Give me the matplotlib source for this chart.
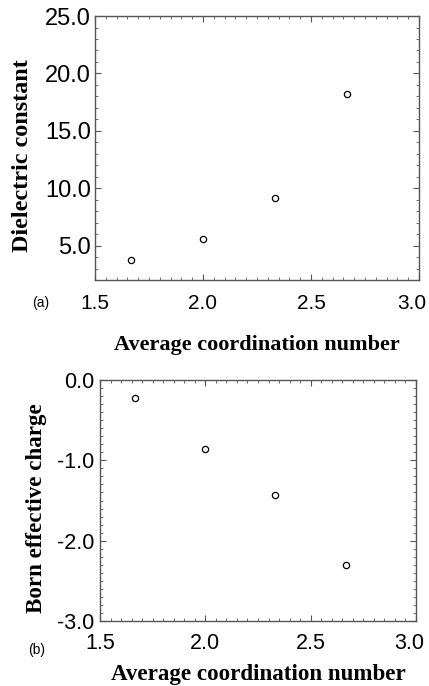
import matplotlib
matplotlib.use("Agg")
import matplotlib.pyplot as plt
import matplotlib.transforms as mtransforms
from matplotlib.ticker import MultipleLocator, FormatStrFormatter

# data
coord_num = [1.667, 2.0, 2.333, 2.667]
dielectric = [3.73, 5.56, 9.12, 18.25]
born_charge = [-0.225, -0.857, -1.43, -2.31]

sans = "Liberation Sans"
serif = "Liberation Serif"
frame_col = "#555555"

fig = plt.figure(figsize=(4.29, 6.86), dpi=100)
ax1 = fig.add_axes([0.2214, 0.5918, 0.7552, 0.3848])
ax2 = fig.add_axes([0.2331, 0.0952, 0.7366, 0.3504])


def style(ax, ysize, xsize, xpad, ypad):
    for sp in ax.spines.values():
        sp.set_color(frame_col)
        sp.set_linewidth(1.0)
    ax.tick_params(which="both", direction="in", top=True, right=True, color=frame_col)
    ax.tick_params(which="major", length=4, width=0.8)
    ax.tick_params(which="minor", length=2, width=0.6)
    ax.tick_params(axis="y", labelsize=ysize, pad=ypad)
    ax.tick_params(axis="x", labelsize=xsize, pad=xpad)
    for lab in ax.get_xticklabels() + ax.get_yticklabels():
        lab.set_fontfamily(sans)
    ax.set_xlim(1.5, 3.0)
    ax.xaxis.set_major_locator(MultipleLocator(0.5))
    ax.xaxis.set_minor_locator(MultipleLocator(0.05))
    ax.xaxis.set_major_formatter(FormatStrFormatter("%.1f"))
    ax.yaxis.set_major_formatter(FormatStrFormatter("%.1f"))


# panel (a)
ax1.plot(coord_num, dielectric, "o", mfc="white", mec="black", ms=4.5, mew=0.9)
ax1.set_ylim(2.0, 25.0)
ax1.yaxis.set_major_locator(MultipleLocator(5))
ax1.yaxis.set_minor_locator(MultipleLocator(1))
style(ax1, 17, 15, 10, 3)
ax1.set_ylabel("Dielectric constant", fontfamily=serif, fontweight="bold", fontsize=17.4)
ax1.yaxis.set_label_coords(-0.191, 0.47)
ax1.set_xlabel("Average coordination number", fontfamily=serif, fontweight="bold", fontsize=16, labelpad=16)
fig.text(0.095, 0.558, "(a)", fontfamily=sans, fontsize=10, ha="center", va="center")

# panel (b)
ax2.plot(coord_num, born_charge, "o", mfc="white", mec="black", ms=4.5, mew=0.9)
ax2.set_ylim(-3.0, 0.0)
ax2.yaxis.set_major_locator(MultipleLocator(1))
ax2.yaxis.set_minor_locator(MultipleLocator(0.1))
style(ax2, 15.5, 15.5, 9, 4)
ax2.set_ylabel("Born effective charge", fontfamily=serif, fontweight="bold", fontsize=16.6)
ax2.yaxis.set_label_coords(-0.168, 0.47)
ax2.set_xlabel("Average coordination number", fontfamily=serif, fontweight="bold", fontsize=16.6, labelpad=7)
fig.text(0.086, 0.052, "(b)", fontfamily=sans, fontsize=10, ha="center", va="center")

# the last x label sits a little left of its tick, as in the original
fig.canvas.draw()
shift = mtransforms.ScaledTranslation(-7 / 100, 0, fig.dpi_scale_trans)
for ax in (ax1, ax2):
    lab = [t.label1 for t in ax.xaxis.get_major_ticks() if t.label1.get_text() == "3.0"][0]
    lab.set_transform(lab.get_transform() + shift)

fig.savefig("out.png", dpi=100)
